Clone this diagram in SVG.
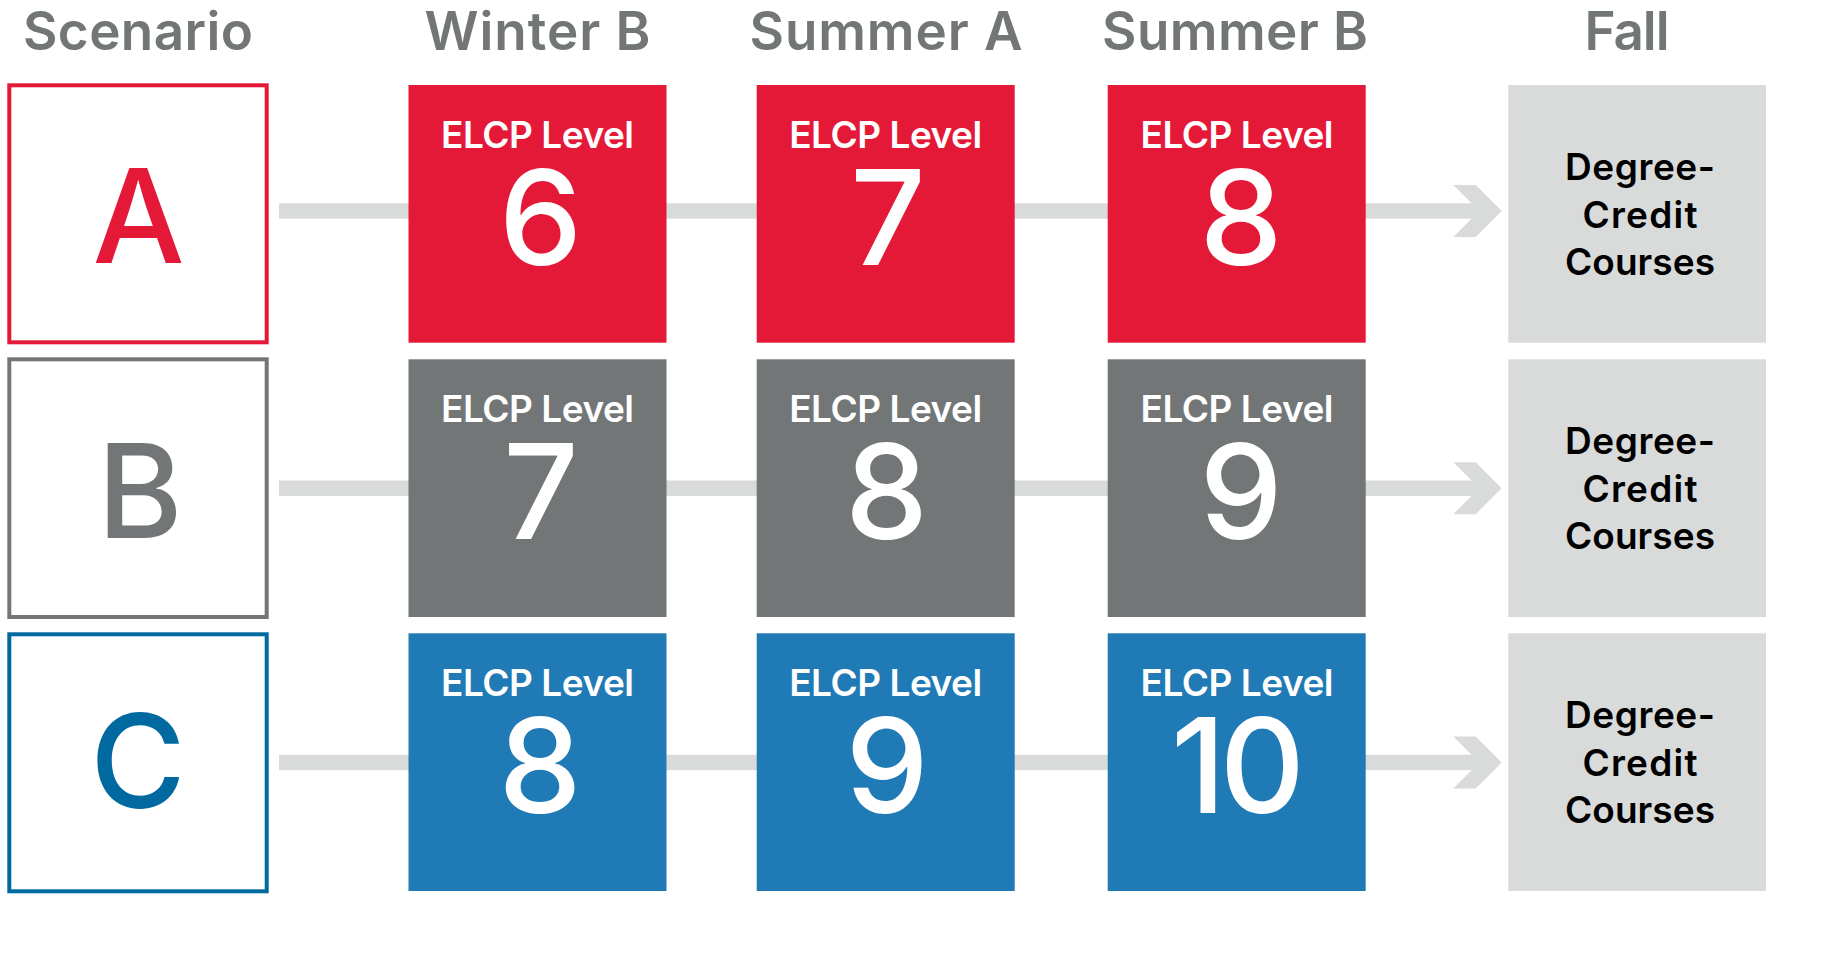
<svg xmlns="http://www.w3.org/2000/svg" width="1832" height="958" viewBox="0 0 1832 958">
<style>
.hdr{font-family:Inter,"Liberation Sans",sans-serif;font-weight:600;font-size:53px;fill:#737677;text-anchor:middle}
.box{font-family:Inter,"Liberation Sans",sans-serif;fill:#ffffff;text-anchor:middle}
.lvl{font-weight:600;font-size:37px}
.num{font-weight:500;font-size:132px}
.let{font-family:Inter,"Liberation Sans",sans-serif;font-weight:500;font-size:130px;text-anchor:middle}
.deg{font-family:Inter,"Liberation Sans",sans-serif;font-weight:600;font-size:37px;fill:#000000;text-anchor:middle}
.red{fill:#E41937}.gry{fill:#737677}.blu{fill:#1F7AB5}.fall{fill:#D9DADA}
.bar{fill:#D9DADA}
.scen{fill:#ffffff;stroke-width:4}
</style>
<rect width="1832" height="958" fill="#ffffff"/>
<g id="headers">
<text class="hdr" x="138" y="50" textLength="230">Scenario</text>
<text class="hdr" x="537.5" y="50" textLength="226">Winter B</text>
<text class="hdr" x="886" y="50" textLength="273">Summer A</text>
<text class="hdr" x="1235" y="50" textLength="266">Summer B</text>
<text class="hdr" x="1627" y="50" textLength="85">Fall</text>
</g>
<g id="connectors">
<rect class="bar" x="279" y="203.3" width="1200" height="15.4"/>
<polygon class="bar" points="1453.3,185 1475.7,185 1501.7,211 1475.7,237 1453.3,237 1479.3,211"/>
<rect class="bar" x="279" y="480.5" width="1200" height="15.4"/>
<polygon class="bar" points="1453.3,462.2 1475.7,462.2 1501.7,488.2 1475.7,514.2 1453.3,514.2 1479.3,488.2"/>
<rect class="bar" x="279" y="754.8" width="1200" height="15.4"/>
<polygon class="bar" points="1453.3,736.5 1475.7,736.5 1501.7,762.5 1475.7,788.5 1453.3,788.5 1479.3,762.5"/>
</g>
<g id="scenario-a">
<rect class="scen" x="9.3" y="85.3" width="257.4" height="257" stroke="#E41937"/>
<text class="let" x="138.5" y="263" fill="#E41937">A</text>
</g>
<g id="scenario-b">
<rect class="scen" x="9.3" y="359.3" width="257.4" height="257.7" stroke="#737677"/>
<text class="let" x="140" y="538" fill="#737677">B</text>
</g>
<g id="scenario-c">
<rect class="scen" x="9.3" y="634.3" width="257.4" height="257" stroke="#006AA0"/>
<text class="let" x="138" y="808" fill="#006AA0">C</text>
</g>
<g id="a-winter-b">
<rect class="red" x="408.5" y="85" width="258" height="257.7"/>
<text class="box"><tspan class="lvl" x="537.5" y="148" textLength="193">ELCP Level</tspan><tspan class="num" x="540.5" y="265">6</tspan></text>
</g>
<g id="a-summer-a">
<rect class="red" x="756.7" y="85" width="258" height="257.7"/>
<text class="box"><tspan class="lvl" x="885.7" y="148" textLength="193">ELCP Level</tspan><tspan class="num" x="888" y="265">7</tspan></text>
</g>
<g id="a-summer-b">
<rect class="red" x="1107.7" y="85" width="258" height="257.7"/>
<text class="box"><tspan class="lvl" x="1237" y="148" textLength="193">ELCP Level</tspan><tspan class="num" x="1241" y="265">8</tspan></text>
</g>
<g id="a-fall">
<rect class="fall" x="1508.3" y="85" width="257.7" height="257.7"/>
<text class="deg"><tspan x="1640" y="180" textLength="150">Degree-</tspan><tspan x="1640" y="227.5" textLength="115">Credit</tspan><tspan x="1640" y="274.5" textLength="150">Courses</tspan></text>
</g>
<g id="b-winter-b">
<rect class="gry" x="408.5" y="359.3" width="258" height="257.7"/>
<text class="box"><tspan class="lvl" x="537.5" y="422.3" textLength="193">ELCP Level</tspan><tspan class="num" x="541" y="539">7</tspan></text>
</g>
<g id="b-summer-a">
<rect class="gry" x="756.7" y="359.3" width="258" height="257.7"/>
<text class="box"><tspan class="lvl" x="885.7" y="422.3" textLength="193">ELCP Level</tspan><tspan class="num" x="886.5" y="539">8</tspan></text>
</g>
<g id="b-summer-b">
<rect class="gry" x="1107.7" y="359.3" width="258" height="257.7"/>
<text class="box"><tspan class="lvl" x="1237" y="422.3" textLength="193">ELCP Level</tspan><tspan class="num" x="1241" y="539">9</tspan></text>
</g>
<g id="b-fall">
<rect class="fall" x="1508.3" y="359.3" width="257.7" height="257.7"/>
<text class="deg"><tspan x="1640" y="454.3" textLength="150">Degree-</tspan><tspan x="1640" y="501.8" textLength="115">Credit</tspan><tspan x="1640" y="548.8" textLength="150">Courses</tspan></text>
</g>
<g id="c-winter-b">
<rect class="blu" x="408.5" y="633.3" width="258" height="257.7"/>
<text class="box"><tspan class="lvl" x="537.5" y="696.3" textLength="193">ELCP Level</tspan><tspan class="num" x="540" y="813">8</tspan></text>
</g>
<g id="c-summer-a">
<rect class="blu" x="756.7" y="633.3" width="258" height="257.7"/>
<text class="box"><tspan class="lvl" x="885.7" y="696.3" textLength="193">ELCP Level</tspan><tspan class="num" x="887" y="813">9</tspan></text>
</g>
<g id="c-summer-b">
<rect class="blu" x="1107.7" y="633.3" width="258" height="257.7"/>
<text class="box"><tspan class="lvl" x="1237" y="696.3" textLength="193">ELCP Level</tspan><tspan class="num" x="1235" y="813" letter-spacing="-6">10</tspan></text>
</g>
<g id="c-fall">
<rect class="fall" x="1508.3" y="633.3" width="257.7" height="257.7"/>
<text class="deg"><tspan x="1640" y="728.3" textLength="150">Degree-</tspan><tspan x="1640" y="775.8" textLength="115">Credit</tspan><tspan x="1640" y="822.8" textLength="150">Courses</tspan></text>
</g>
</svg>
